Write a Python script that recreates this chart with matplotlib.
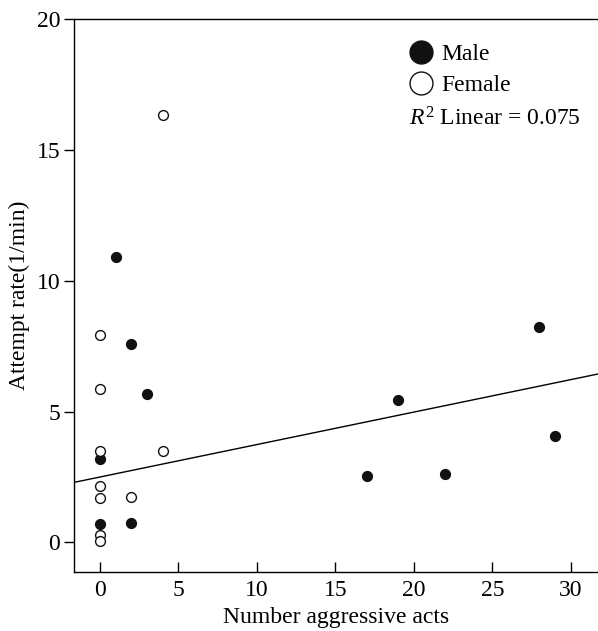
import numpy as np
import matplotlib
matplotlib.use("Agg")
import matplotlib.pyplot as plt
from matplotlib.lines import Line2D

plt.rcParams['font.family'] = ['Liberation Serif', 'DejaVu Serif']
plt.rcParams['mathtext.fontset'] = 'custom'
plt.rcParams['mathtext.rm'] = 'Liberation Serif'
plt.rcParams['mathtext.it'] = 'Liberation Serif:italic'

# Data
male_x = [1, 2, 3, 0, 0, 2, 17, 19, 22, 28, 29]
male_y = [10.92, 7.58, 5.67, 3.18, 0.69, 0.75, 2.53, 5.43, 2.60, 8.24, 4.05]
female_x = [4, 0, 0, 0, 4, 0, 0, 2, 0, 0]
female_y = [16.35, 7.91, 5.86, 3.49, 3.49, 2.15, 1.68, 1.74, 0.29, 0.05]
x_ticks = [0, 5, 10, 15, 20, 25, 30]
y_ticks = [0, 5, 10, 15, 20]
fit_intercept = 2.50
fit_slope = 0.124
r2_label = "0.075"

fig = plt.figure(figsize=(5.98, 6.31), dpi=100)
ax = fig.add_axes([74/598, 1 - 572/631, (598-74)/598, (572-19)/631])

xmin, xmax = -1.66, 31.74
ax.set_xlim(xmin, xmax)
ax.set_ylim(-1.13, 20)

xs = np.array([xmin, xmax])
ax.plot(xs, fit_intercept + fit_slope * xs, color='black', lw=1.0, zorder=2)

ax.scatter(male_x, male_y, s=50, facecolor='#111111', edgecolor='#111111', lw=1.0, zorder=3)
ax.scatter(female_x, female_y, s=50, facecolor='white', edgecolor='#111111', lw=1.0, zorder=3)

ax.spines['right'].set_visible(False)
for s in ['left', 'bottom', 'top']:
    ax.spines[s].set_linewidth(1.0)

ax.set_xticks(x_ticks)
ax.set_yticks(y_ticks)
ax.tick_params(axis='x', direction='in', length=7, width=1, labelsize=17, pad=6)
ax.tick_params(axis='y', direction='out', length=7, width=1, labelsize=17, pad=3)

ax.set_xlabel("Number aggressive acts", fontsize=17, labelpad=4)
ax.set_ylabel("Attempt rate(1/min)", fontsize=17, labelpad=5)

handles = [Line2D([], [], marker='o', ls='none', markersize=16.5, markerfacecolor='#111111',
                  markeredgecolor='#111111', label='Male'),
           Line2D([], [], marker='o', ls='none', markersize=16.5, markerfacecolor='white',
                  markeredgecolor='#111111', markeredgewidth=1.0, label='Female')]
leg = ax.legend(handles=handles, loc='upper left', bbox_to_anchor=(0.618, 0.972),
                frameon=False, fontsize=17, handletextpad=0.25, labelspacing=0.4,
                handlelength=1.2, borderaxespad=0)
ax.text(409/598, 1 - 119/631, r"$\mathit{R}^2$ Linear = " + r2_label, transform=fig.transFigure,
        fontsize=17, va='center', ha='left')

fig.savefig("out.png", dpi=100)
